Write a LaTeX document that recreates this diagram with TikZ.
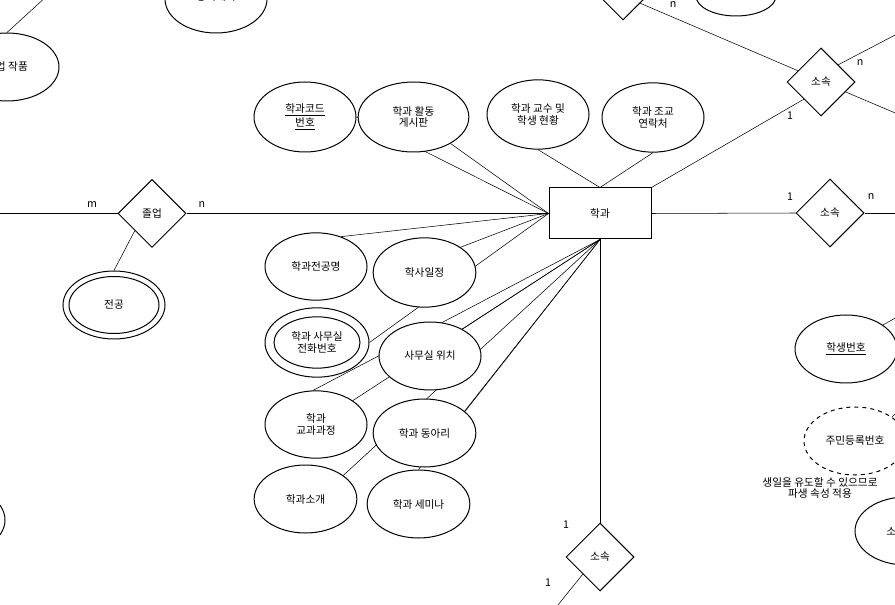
\documentclass[tikz,border=0pt]{standalone}
\usepackage{fontspec}
\setmainfont{Noto Sans CJK KR}
\usetikzlibrary{shapes.geometric,backgrounds}
\begin{document}
\begin{tikzpicture}[x=0.75pt,y=-0.75pt,
  font=\fontsize{8}{8.6}\selectfont,
  line width=0.75pt,
  attr/.style={ellipse,draw,fill=white,inner sep=0pt,minimum width=76.5pt,minimum height=51pt,align=center},
  inattr/.style={ellipse,draw,inner sep=0pt,align=center},
  rel/.style={diamond,draw,fill=white,inner sep=0pt,minimum width=51pt,minimum height=51pt},
  ent/.style={rectangle,draw,fill=white,inner sep=0pt,minimum width=76.5pt,minimum height=38.25pt},
  card/.style={inner sep=0pt}
]
\useasboundingbox (0,0) rectangle (895,605);

% entity and relationships
\node[ent] (dept) at (600,213.5) {학과};
\node[rel] (grad) at (152,213.5) {졸업};
\node[rel] (so1) at (821,82) {소속};
\node[rel] (so2) at (830,213) {소속};
\node[rel] (so3) at (600,557) {소속};
\node[rel] (topdia) at (623,-14) {};

% attributes of 학과
\node[attr,minimum width=76.5pt,minimum height=52.5pt] (code) at (305,117) {\underline{학과코드}\\\underline{번호}};
\node[attr,minimum width=83pt,minimum height=52.5pt] (act) at (413.5,117) {학과 활동\\게시판};
\node[attr,minimum height=52pt] (prof) at (538,114.5) {학과 교수 및\\학생 현황};
\node[attr,minimum height=52pt] (asst) at (653,117.5) {학과 조교\\연락처};
\node[attr,minimum height=50.5pt] (major) at (316,266.5) {학과전공명};
\node[attr,minimum width=77pt,minimum height=52pt] (sched) at (424.5,272.5) {학사일정};
\node[attr,minimum width=78pt,minimum height=52pt] (office) at (317,342.5) {};
\node[inattr,minimum width=64.5pt,minimum height=38.5pt] (officein) at (317,342.5) {학과 사무실\\전화번호};
\node[attr] (loc) at (430,356) {사무실 위치};
\node[attr,minimum height=50.5pt] (cur) at (316,424.5) {학과\\교과과정};
\node[attr,minimum width=77pt] (club) at (424.5,433) {학과 동아리};
\node[attr,minimum width=77pt] (intro) at (305.5,499) {학과소개};
\node[attr,minimum width=77pt] (sem) at (418.5,504) {학과 세미나};

% other attributes
\node[attr] (jeon) at (114,305) {};
\node[inattr,minimum width=67.5pt,minimum height=42.75pt] (jeonin) at (114,305) {전공};
\node[attr,minimum width=78pt] (work) at (7,67) {졸업 작품};
\node[attr] (notice) at (216,-1) {};
\node[inner sep=0pt] (noticetext) at (216,-3) {공지게시};
\node[attr,minimum width=60pt,minimum height=30pt] (topright) at (736,-4) {};
\node[attr] (stu) at (846,349) {\underline{학생번호}};
\node[attr,dashed] (jumin) at (855,441) {주민등록번호};
\node[attr] (sobot) at (906,531) {소속학과};
\node[attr] (leftbot) at (-46,520) {};
\node[align=center,inner sep=0pt] (note) at (820,488) {생일을 유도할 수 있으므로\\파생 속성 적용};

% free ends
\coordinate (gleft) at (-10,213.5);
\coordinate (workup) at (59,-15);
\coordinate (so1ne) at (920,22);
\coordinate (so1se) at (920,123.5);
\coordinate (so2e) at (920,213);
\coordinate (so3sw) at (545,621);
\coordinate (stuout) at (920,304);
\coordinate (juminout) at (915,394);

% cardinalities
\node[card] (cm) at (92,205) {m};
\node[card] (cn) at (202,205) {n};
\node[card] (c21) at (790,197) {1};
\node[card] (c2n) at (871,197) {n};
\node[card] (c11) at (790,116) {1};
\node[card] (c1n) at (860,63) {n};
\node[card] (ctn) at (673,5) {n};
\node[card] (c31) at (566,525) {1};
\node[card] (c32) at (548,583) {1};

\begin{pgfonlayer}{background}
\draw (code.east) -- (dept.west);
\draw (act) -- (dept.west);
\draw (prof.south) -- (dept.north);
\draw (asst.south) -- (dept.north);
\draw (major.50) -- (dept.west);
\draw (sched.35) -- (dept.west);
\draw (office.east) -- (dept.west);
\draw (loc.40) -- (dept.south);
\draw (cur.33) -- (dept.south);
\draw (cur.95) -- (dept.south);
\draw (intro.32) -- (dept.south);
\draw (club.28) -- (dept.south);
\draw (sem.north) -- (dept.south);
\draw (dept.south) -- (so3.north);
\draw (so3.south west) -- (so3sw);
\draw (dept.east) -- (so2.west);
\draw (so2.east) -- (so2e);
\draw (dept.north east) -- (so1.south west);
\draw (topdia.south east) -- (so1.154);
\draw (so1.north east) -- (so1ne);
\draw (so1.-22) -- (so1se);
\draw (gleft) -- (grad.west);
\draw (grad.east) -- (dept.west);
\draw (grad.south west) -- (jeon.north);
\draw (work.north) -- (workup);
\draw (stu.33) -- (stuout);
\draw (jumin.33) -- (juminout);
\end{pgfonlayer}
\end{tikzpicture}
\end{document}
